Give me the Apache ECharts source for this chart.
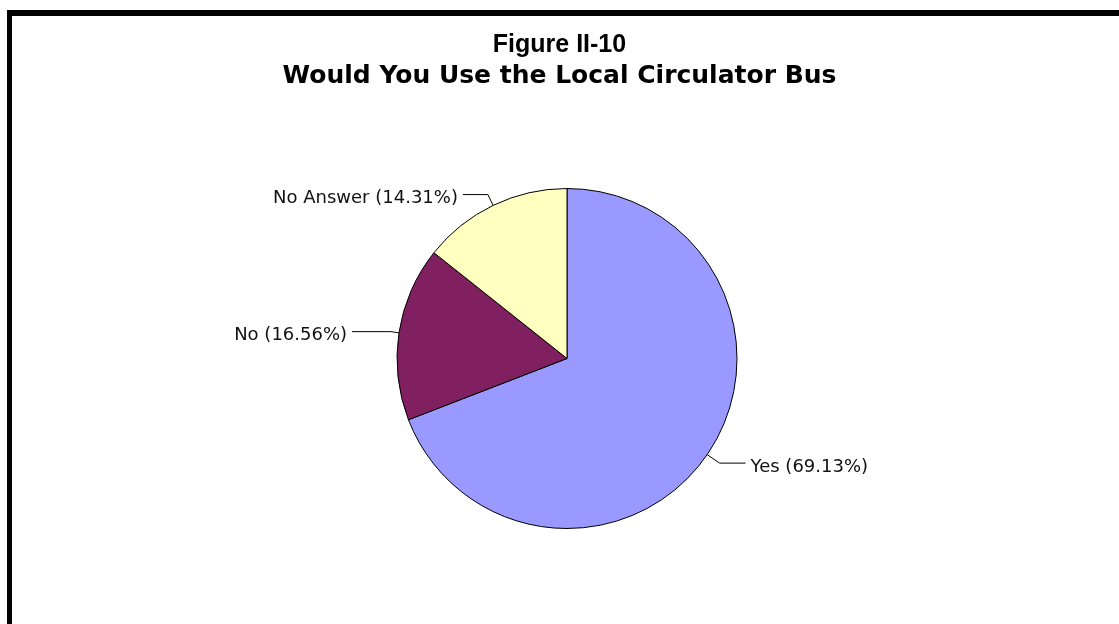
<!DOCTYPE html>
<html>
<head>
<meta charset="utf-8">
<title>Figure II-10</title>
<script src="https://cdn.jsdelivr.net/npm/echarts@6/dist/echarts.min.js"></script>
<style>
  html, body { margin: 0; padding: 0; background: #fff; }
  #chart { position: absolute; left: 0; top: 0; width: 1119px; height: 624px; }
  /* heavy frame along the left and top edges */
  #frame {
    position: absolute; left: 7px; top: 10px; right: 0; bottom: 0;
    border-left: 5px solid #000; border-top: 6px solid #000;
    pointer-events: none;
  }
</style>
</head>
<body>
<div id="chart"></div>
<div id="frame"></div>
<script>
// Survey answers and their shares (percent)
const categories = ['Yes', 'No', 'No Answer'];
const shares = [69.13, 16.56, 14.31];
const sliceColors = ['#9999FF', '#802060', '#FFFFC0'];
const titleLines = ['Figure II-10', 'Would You Use the Local Circulator Bus'];

// per-slice leader line lengths: [radial segment, horizontal segment]
const leaderLengths = [[15, 26], [8, 39], [12, 25]];

const chart = echarts.init(document.getElementById('chart'), null, { renderer: 'canvas' });

chart.setOption({
  animation: false,
  backgroundColor: '#ffffff',
  title: [
    {
      text: titleLines[0],
      left: 'center',
      top: 33,
      padding: 0,
      textStyle: {
        fontFamily: 'Liberation Sans, Arial, sans-serif',
        fontWeight: 'bold', fontSize: 25, lineHeight: 25, color: '#000'
      }
    },
    {
      text: titleLines[1],
      left: 'center',
      top: 64,
      padding: 0,
      textStyle: {
        fontFamily: 'DejaVu Sans, sans-serif',
        fontWeight: 'bold', fontSize: 25, lineHeight: 25, color: '#000'
      }
    }
  ],
  series: [{
    type: 'pie',
    center: [567, 358.5],
    radius: 170,
    startAngle: 90,
    clockwise: true,
    avoidLabelOverlap: false,
    silent: true,
    itemStyle: { borderColor: '#000', borderWidth: 1 },
    label: {
      show: true,
      position: 'outside',
      // a thin spacer line sits the text a little below its leader line
      formatter: '{gap| }\n{t|{b} ({c}%)}',
      distanceToLabelLine: 5,
      rich: {
        gap: { fontSize: 1, lineHeight: 8 },
        t: {
          fontFamily: 'DejaVu Sans, sans-serif',
          fontSize: 18,
          lineHeight: 20,
          color: '#111'
        }
      }
    },
    labelLine: {
      show: true,
      smooth: false,
      lineStyle: { color: '#000', width: 1 }
    },
    emphasis: { disabled: true },
    data: categories.map((name, i) => ({
      name: name,
      value: shares[i],
      itemStyle: { color: sliceColors[i] },
      labelLine: { length: leaderLengths[i][0], length2: leaderLengths[i][1] }
    }))
  }]
});
</script>
</body>
</html>
